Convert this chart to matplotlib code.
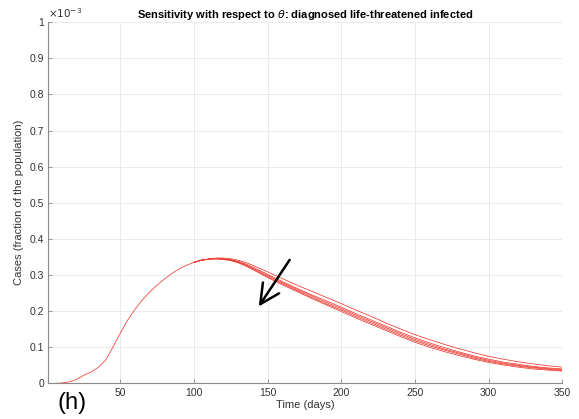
import matplotlib

matplotlib.use("Agg")
import matplotlib.pyplot as plt

# time points (days)
days_rise = [1, 5, 10, 15, 20, 25, 30, 35, 40, 45, 50, 55, 60, 65, 70, 75,
             80, 85, 90, 95, 100, 105, 110]
days_fall = [115, 120, 125, 130, 135, 140, 145, 150, 160, 170, 180, 190, 200,
             210, 220, 230, 240, 250, 260, 270, 280, 290, 300, 310, 320, 330,
             340, 350]

# shared rising phase (x 1e-3)
rise = [0.0, 0.0, 0.001, 0.004, 0.010, 0.022, 0.031, 0.044, 0.064, 0.100,
        0.139, 0.175, 0.205, 0.231, 0.253, 0.272, 0.289, 0.304, 0.317, 0.327,
        0.335, 0.341, 0.344]

# declining phase, one list per theta value (x 1e-3)
fall_1 = [0.347, 0.347, 0.345, 0.341, 0.335, 0.327, 0.318, 0.309, 0.290,
          0.272, 0.255, 0.238, 0.221, 0.203, 0.186, 0.168, 0.151, 0.135,
          0.121, 0.108, 0.096, 0.085, 0.075, 0.067, 0.060, 0.054, 0.049,
          0.045]
fall_2 = [0.346, 0.345, 0.343, 0.338, 0.331, 0.322, 0.312, 0.302, 0.282,
          0.263, 0.245, 0.228, 0.211, 0.193, 0.176, 0.159, 0.142, 0.126,
          0.112, 0.099, 0.087, 0.076, 0.067, 0.059, 0.053, 0.047, 0.043,
          0.040]
fall_3 = [0.345, 0.344, 0.342, 0.336, 0.329, 0.319, 0.309, 0.299, 0.279,
          0.260, 0.242, 0.224, 0.207, 0.189, 0.172, 0.155, 0.138, 0.122,
          0.108, 0.095, 0.084, 0.073, 0.064, 0.056, 0.050, 0.045, 0.041,
          0.038]
fall_4 = [0.345, 0.344, 0.341, 0.335, 0.327, 0.317, 0.306, 0.296, 0.276,
          0.257, 0.238, 0.220, 0.203, 0.185, 0.168, 0.151, 0.134, 0.118,
          0.104, 0.092, 0.081, 0.070, 0.061, 0.054, 0.048, 0.043, 0.039,
          0.036]
fall_5 = [0.345, 0.343, 0.340, 0.334, 0.325, 0.315, 0.304, 0.293, 0.273,
          0.254, 0.235, 0.217, 0.199, 0.181, 0.164, 0.147, 0.130, 0.114,
          0.100, 0.088, 0.077, 0.067, 0.058, 0.051, 0.045, 0.040, 0.037,
          0.034]

x_ticks = [50, 100, 150, 200, 250, 300, 350]
y_ticks = [0, 0.1, 0.2, 0.3, 0.4, 0.5, 0.6, 0.7, 0.8, 0.9, 1]
y_tick_labels = ["0", "0.1", "0.2", "0.3", "0.4", "0.5", "0.6", "0.7",
                 "0.8", "0.9", "1"]

plt.rcParams["font.family"] = ["Liberation Sans", "DejaVu Sans"]
plt.rcParams["mathtext.fontset"] = "dejavusans"

fig = plt.figure(figsize=(5.79, 4.19), dpi=100)
ax = fig.add_axes([0.083, 0.085, 0.888, 0.862])

line_color = "#ee3a30"
# the curves coincide during the rise, so it is drawn once
ax.plot(days_rise, rise, color=line_color, linewidth=0.55)
for fall in (fall_1, fall_2, fall_3, fall_4, fall_5):
    ax.plot(days_rise[-3:] + days_fall, rise[-3:] + fall,
            color=line_color, linewidth=0.55)

ax.set_xlim(1, 350)
ax.set_ylim(0, 1)
ax.set_xticks(x_ticks)
ax.set_yticks(y_ticks)
ax.set_yticklabels(y_tick_labels)
ax.grid(True, color="#e8e8e8", linewidth=0.6)
ax.set_axisbelow(True)

for side in ("top", "right"):
    ax.spines[side].set_visible(False)
for side in ("left", "bottom"):
    ax.spines[side].set_color("#8a8a8a")
    ax.spines[side].set_linewidth(0.8)

ax.tick_params(direction="in", length=3, width=0.6, color="#8a8a8a",
               labelsize=7.5, labelcolor="#333333", pad=3)

ax.set_title(r"Sensitivity with respect to $\theta$: diagnosed life-threatened infected",
             fontsize=8, fontweight="bold", pad=3)
ax.set_xlabel("Time (days)", fontsize=8, color="#333333", labelpad=2)
ax.set_ylabel("Cases (fraction of the population)", fontsize=8,
              color="#333333", labelpad=4)

ax.text(0.0, 1.005, r"$\times10^{-3}$", transform=ax.transAxes,
        fontsize=7.5, color="#333333", ha="left", va="bottom")

ax.annotate("", xy=(144, 0.213), xytext=(165, 0.342),
            arrowprops=dict(arrowstyle="->, head_length=1.4, head_width=0.7",
                            color="black", linewidth=1.8,
                            shrinkA=0, shrinkB=0))

fig.text(0.125, 0.038, "(h)", fontsize=17, ha="center", va="center")

fig.savefig("out.png", dpi=100)
